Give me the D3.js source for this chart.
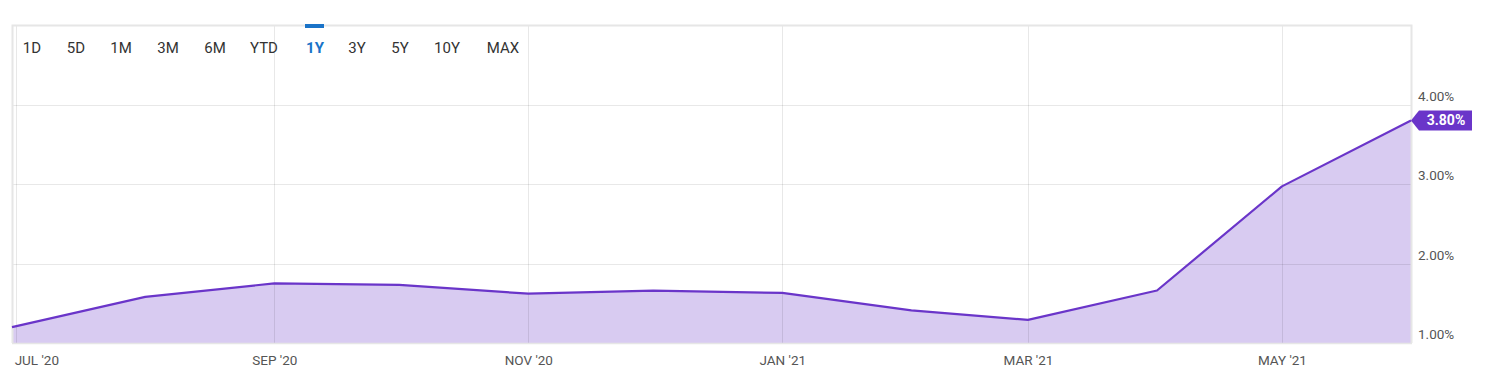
<!DOCTYPE html>
<html>
<head>
<meta charset="utf-8">
<script src="https://cdn.jsdelivr.net/npm/d3@7"></script>
<style>
  html, body { margin: 0; padding: 0; background: #fff; }
  svg { display: block; }
  text { font-family: Roboto, "Noto Sans", sans-serif; }
</style>
</head>
<body>
<svg id="chart" width="1500" height="379"></svg>
<script>
// ---- data ----
const dates = ["2020-06-30","2020-08-01","2020-09-01","2020-10-01","2020-11-01","2020-12-01",
               "2021-01-01","2021-02-01","2021-03-01","2021-04-01","2021-05-01","2021-06-01"];
const values = [1.20, 1.58, 1.75, 1.73, 1.62, 1.66, 1.63, 1.41, 1.29, 1.66, 2.97, 3.80];
const yTicks = [1, 2, 3, 4];
const xTickDates = ["2020-07-01","2020-09-01","2020-11-01","2021-01-01","2021-03-01","2021-05-01"];
const xTickLabels = ["JUL '20","SEP '20","NOV '20","JAN '21","MAR '21","MAY '21"];
const rangeButtons = ["1D","5D","1M","3M","6M","YTD","1Y","3Y","5Y","10Y","MAX"];
const activeButton = "1Y";
const lastLabel = "3.80%";

// ---- layout ----
const svg = d3.select("#chart");
const pLeft = 12, pRight = 1411, pTop = 25, pBottom = 343;
const parse = d3.utcParse("%Y-%m-%d");
const data = dates.map((d, i) => ({ date: parse(d), value: values[i] }));

const x = d3.scaleUtc().domain([parse("2020-06-30"), parse("2021-06-01")]).range([pLeft, pRight]);
const y = d3.scaleLinear().domain([1, 5]).range([pBottom, pTop]);

const purple = "#6a35c9";

// area
svg.append("path")
  .datum(data)
  .attr("fill", purple)
  .attr("fill-opacity", 0.26)
  .attr("d", d3.area().x(d => x(d.date)).y0(pBottom).y1(d => y(d.value)));

// grid lines
const grid = svg.append("g");
grid.selectAll("line.h").data(yTicks.filter(t => t > 1)).join("line")
  .attr("x1", pLeft).attr("x2", pRight)
  .attr("y1", d => Math.round(y(d)) + 0.5).attr("y2", d => Math.round(y(d)) + 0.5)
  .attr("stroke", "#000").attr("stroke-opacity", 0.09);
grid.selectAll("line.v").data(xTickDates).join("line")
  .attr("x1", d => Math.round(x(parse(d))) + 0.5).attr("x2", d => Math.round(x(parse(d))) + 0.5)
  .attr("y1", pTop).attr("y2", pBottom)
  .attr("stroke", "#000").attr("stroke-opacity", 0.09);

// frame
svg.append("path")
  .attr("d", `M${pLeft+0.5},${pBottom} V${pTop+0.5} H${pRight+0.5} V${pBottom}`)
  .attr("fill", "none").attr("stroke", "#e6e6e6").attr("stroke-width", 2);
svg.append("line")
  .attr("x1", pLeft).attr("x2", pRight + 1).attr("y1", pBottom + 0.5).attr("y2", pBottom + 0.5)
  .attr("stroke", "#e6e6e6").attr("stroke-width", 1.5);

// line
svg.append("path")
  .datum(data)
  .attr("fill", "none")
  .attr("stroke", purple)
  .attr("stroke-width", 2.2)
  .attr("stroke-linejoin", "round")
  .attr("d", d3.line().x(d => x(d.date)).y(d => y(d.value)));

// y axis labels (right side)
const yAxis = d3.axisRight(y).tickValues(yTicks).tickSize(0)
  .tickFormat(d => d3.format(".2f")(d) + "%");
const gy = svg.append("g").attr("transform", `translate(${pRight + 7},0)`).call(yAxis);
gy.select(".domain").remove();
gy.selectAll("text")
  .attr("x", 0).attr("dy", "-0.3em")
  .attr("fill", "#555").style("font-size", "13.5px")
  .style("font-family", "Roboto, sans-serif");

// x axis labels
const xAxis = d3.axisBottom(x).tickValues(xTickDates.map(parse)).tickSize(0)
  .tickFormat((d, i) => xTickLabels[i]);
const gx = svg.append("g").attr("transform", `translate(0,${pBottom})`).call(xAxis);
gx.select(".domain").remove();
gx.selectAll("text")
  .attr("y", 12)
  .attr("fill", "#555").style("font-size", "13.5px")
  .style("font-family", "Roboto, sans-serif")
  .attr("text-anchor", (d, i) => i === 0 ? "start" : "middle")
  .attr("dx", (d, i) => i === 0 ? -2 : 0);

// last value label
const last = data[data.length - 1];
const lx = x(last.date), ly = y(last.value);
const lab = svg.append("g").attr("transform", `translate(${lx},${ly})`);
lab.append("path")
  .attr("d", "M0,0 L8,-10 H61 V10 H8 Z")
  .attr("fill", purple);
lab.append("text")
  .attr("x", 35).attr("y", 0).attr("dy", "0.36em")
  .attr("text-anchor", "middle")
  .attr("fill", "#fff").style("font-size", "14px").style("font-weight", "bold")
  .text(lastLabel);

// range buttons
const btnX = [32, 76, 121, 168, 215, 264, 315, 357, 400, 447, 503];
const btns = svg.append("g");
btns.selectAll("text").data(rangeButtons).join("text")
  .attr("x", (d, i) => btnX[i]).attr("y", 52.5)
  .attr("text-anchor", "middle")
  .attr("fill", d => d === activeButton ? "#1a73c8" : "#333")
  .style("font-size", "15px")
  .style("font-weight", d => d === activeButton ? "bold" : "normal")
  .text(d => d);
const ai = rangeButtons.indexOf(activeButton);
svg.append("rect")
  .attr("x", btnX[ai] - 10).attr("y", 24).attr("width", 19).attr("height", 4)
  .attr("fill", "#1a73c8");
</script>
</body>
</html>
